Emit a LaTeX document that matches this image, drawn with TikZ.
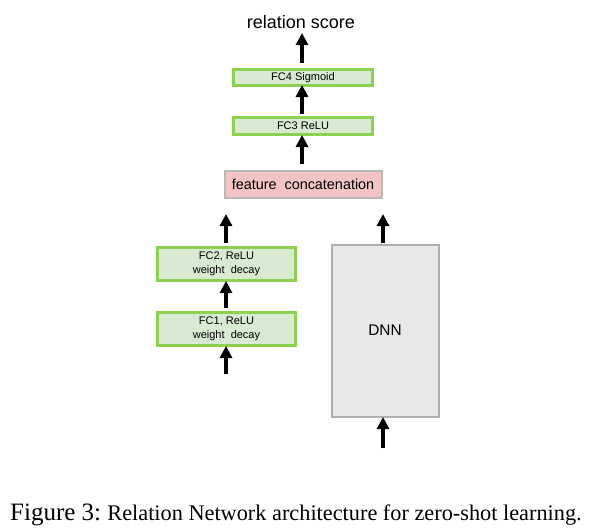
\documentclass[tikz,border=0pt]{standalone}
\usepackage{fontspec}
\setmainfont{Liberation Serif}
\setsansfont{Liberation Sans}
\usetikzlibrary{arrows.meta}
\definecolor{gfill}{HTML}{D9EAD3}
\definecolor{gline}{HTML}{8CD14F}
\definecolor{pfill}{HTML}{F2C4C4}
\definecolor{pline}{HTML}{B8B8B8}
\definecolor{dfill}{HTML}{E8E8E8}
\definecolor{dline}{HTML}{AFAFAF}
\tikzset{
  fcbox/.style={draw=gline, fill=gfill, line width=2.3pt, inner sep=0pt, font=\sffamily\fontsize{11}{13.5}\selectfont, align=center},
  catbox/.style={draw=pline, fill=pfill, line width=2pt, inner sep=0pt, font=\sffamily\fontsize{14.4}{16}\selectfont},
  dnnbox/.style={draw=dline, fill=dfill, line width=2pt, inner sep=0pt, font=\sffamily\fontsize{15.4}{17}\selectfont},
  flow/.style={line width=3.6pt, -{Triangle[width=12pt,length=12pt]}},
}
\begin{document}
\begin{tikzpicture}[x=1pt,y=-1pt]
\useasboundingbox (0,0) rectangle (603,528);
% boxes
\node[fcbox, minimum width=139pt, minimum height=16pt] (fc4) at (303,77.5) {FC4 Sigmoid};
\node[fcbox, minimum width=139pt, minimum height=17pt] (fc3) at (303,126) {FC3 ReLU};
\node[catbox, minimum width=157pt, minimum height=27pt] (cat) at (303,184) {feature\ \ concatenation};
\node[fcbox, minimum width=138pt, minimum height=33pt] (fc2) at (226.5,264) {FC2, ReLU\\weight\ \ decay};
\node[fcbox, minimum width=138pt, minimum height=33pt] (fc1) at (226.5,329) {FC1, ReLU\\weight\ \ decay};
\node[dnnbox, minimum width=107pt, minimum height=172pt] (dnn) at (385,330.5) {DNN};
\node[font=\sffamily\fontsize{18}{20}\selectfont] (score) at (301,22) {relation score};
% free ends
\coordinate (catin1) at (226,243);
\coordinate (catin2) at (383,243);
\coordinate (fc1in) at (226,374);
\coordinate (dnnin) at (383,448);
% arrows
\draw[flow] (302,63) -- (302,33);
\draw[flow] (302,114) -- (302,85);
\draw[flow] (302,164) -- (302,135);
\draw[flow] (catin1) -- (226,214);
\draw[flow] (catin2) -- (383,214);
\draw[flow] (226,308) -- (226,281);
\draw[flow] (fc1in) -- (226,346);
\draw[flow] (dnnin) -- (383,417);
% caption
\node[anchor=base west, inner sep=0pt] (cap) at (10,520) {\fontsize{25}{28}\selectfont Figure 3:\ \fontsize{22.3}{25}\selectfont Relation Network architecture for zero-shot learning.};
\end{tikzpicture}
\end{document}
